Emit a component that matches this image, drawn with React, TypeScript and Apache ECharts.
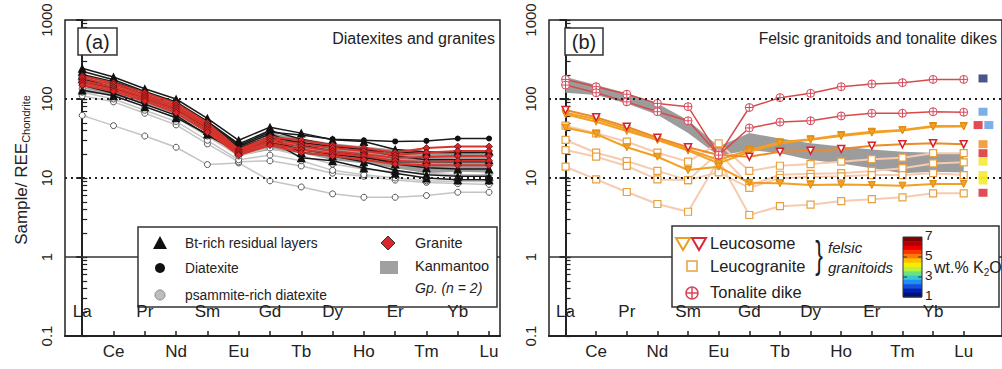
import React, { useEffect, useRef } from 'react';
import * as echarts from 'echarts';

const ELEMENTS = ['La', 'Ce', 'Pr', 'Nd', 'Sm', 'Eu', 'Gd', 'Tb', 'Dy', 'Ho', 'Er', 'Tm', 'Yb', 'Lu'];
const Y_TICKS = [0.1, 1, 10, 100, 1000];
const LABELS_BELOW = [1, 3, 5, 7, 9, 11, 13];
const LABELS_ABOVE = [0, 2, 4, 6, 8, 10, 12];

// ---- Panel (a): Diatexites and granites ----
const BT_RICH = [
  [245, 190, 135, 100, 57, 30, 44, 37, 30.5, 29, 23, 21.5, 21.5, 22],
  [225, 175, 125, 92, 52, 27, 40, 31, 26, 23, 19, 17, 17, 17],
  [200, 158, 112, 82, 46, 25, 36, 26, 22, 19, 15, 13.5, 13, 13],
  [180, 140, 102, 74, 40, 23, 33, 21, 19, 16, 12.5, 11, 10.5, 10.5],
  [130, 110, 80, 58, 36, 22, 30, 18, 16.5, 13.4, 11.5, 10, 9.5, 9.5],
];
const DIATEXITE = [
  [205, 165, 122, 90, 50, 26, 38, 35, 31, 30, 29, 29.5, 31.6, 31.6],
  [170, 135, 100, 72, 43, 24, 33, 28, 25, 23, 21, 21, 21, 21],
  [150, 118, 86, 62, 35, 21, 29, 23, 20, 18, 16, 16, 16, 16],
];
const PSAMMITE = [
  [62, 46, 34, 24.5, 14.8, 15.5, 9.2, 7.7, 6.3, 5.7, 5.7, 6.0, 6.6, 6.6],
  [110, 92, 66, 47, 27, 16, 16.5, 14.2, 11.5, 10.5, 9.4, 8.8, 8.5, 8.3],
  [122, 100, 72, 52, 30, 17, 19.5, 16.5, 12.5, 11, 10, 9.2, 9, 9],
  [135, 110, 80, 58, 34, 19, 24, 19, 15, 13, 12, 11.5, 11, 11],
];
const GRANITE = [
  [195, 160, 120, 88, 50, 23, 33, 30, 26, 24, 21, 24, 25, 25],
  [185, 152, 112, 82, 47, 22, 31, 27, 24, 22, 19.5, 21, 22, 22],
  [170, 142, 106, 77, 44, 21, 29, 25, 22, 20, 18, 18.5, 19, 19],
  [160, 133, 100, 72, 41, 20, 27, 23, 20.5, 19, 16.5, 16, 16.5, 16.5],
  [150, 125, 94, 67, 38, 19.5, 26, 21, 19, 17, 15, 14.5, 14.5, 14.5],
];
const KANMANTOO_TOP = [190, 150, 118, 88, 54, 25, 37, 31.6, 27.5, 25, 23, 21.5, 20.9, 20.6];
const KANMANTOO_BOTTOM = [120, 112, 88, 63, 37, 19, 22.6, 20.6, 16.9, 15.3, 13.3, 11.5, 12, 11.7];

// ---- Panel (b): Felsic granitoids and tonalite dikes ----
const TONALITE = [
  [177, 143, 115, 88, 80, 19.5, 78, 104, 118, 143, 155, 161, 177, 177],
  [150, 120, 92, 69, 53, 19.5, 43, 51, 53, 61, 66, 66, 69, 68],
];
const LEUCOSOME_ORANGE = [
  [67, 55.3, 41.7, 31.2, 23, 16.9, 22.6, 28.3, 30.9, 35, 38.5, 40.5, 45.5, 45.5],
  [64, 51.6, 39.4, 30.3, 22.2, 15.3, 21.5, 27.5, 30.5, 34, 37.5, 40, 44.5, 45],
  [43.3, 36, 24.5, 18.6, 12.6, 13.9, 8.7, 8.6, 8.15, 8.3, 8.15, 8.0, 8.4, 8.4],
];
const LEUCOSOME_RED = [72.6, 58.6, 44.6, 32.4, 24.5, 19.5, 18.6, 21.5, 22.2, 23.3, 25.6, 26.7, 27.5, 26.7];
const LEUCOGRANITE = [
  [45.9, 36.8, 28.8, 20.9, 16.1, 27.5, 12.3, 14.3, 15, 16.1, 17.3, 18.1, 20.6, 20.6],
  [30.3, 20.9, 16.4, 12.3, 9.4, 21, 8, 11, 11.3, 11.5, 12.3, 13.3, 15.3, 15.8],
  [22.6, 18.6, 14.2, 9.6, 9.4, 11.8, 7.5, 10, 10.3, 10.5, 10.9, 10.9, 11.5, 10.9],
  [13.9, 9.6, 6.65, 4.69, 3.74, 17, 3.4, 4.4, 4.6, 5.1, 5.4, 5.7, 6.4, 6.4],
];
const K2O_MARK_X = [13.63, 13.63, 13.47, 13.82, 13.63, 13.63, 13.63, 13.63, 13.63, 13.63];
const K2O_MARK_Y = [182, 69, 46.8, 46.8, 26.8, 20.6, 16.1, 10.9, 9.3, 6.5];
const K2O_MARK_COLOR = ['#1d2a6e', '#5b9be0', '#d8202a', '#5b9be0', '#f08a1c', '#d8202a', '#f3e81a', '#f3e81a', '#f3e81a', '#d8202a'];
const COLORBAR_TICKS = ['7', '5', '3', '1'];
const JET = ['#7f0000', '#b30000', '#e60000', '#ff3300', '#ff7a00', '#ffc000', '#f4f000', '#b8f040', '#6fe080', '#30c8d8', '#2090f0', '#1050e0', '#0020b0', '#00107a'];

const FONT = "'Liberation Sans', Arial, sans-serif";
const TXT = '#222';
const PLUS_CIRCLE = 'path://M10,0A10,10,0,1,1,-10,0A10,10,0,1,1,10,0ZM0,-10L0,10M-10,0L10,0';

function lineSeries(values: number[], xi: number, yi: number, o: any) {
  return {
    type: 'line',
    xAxisIndex: xi,
    yAxisIndex: yi,
    data: values.map((v, i) => [i, v]),
    symbol: o.symbol,
    symbolSize: o.size,
    symbolRotate: o.rotate || 0,
    showSymbol: true,
    lineStyle: { color: o.line, width: o.width },
    itemStyle: { color: o.fill, borderColor: o.border, borderWidth: o.bw },
    z: o.z,
    silent: true,
    emphasis: { disabled: true },
    markLine: o.markLine,
  };
}

function bandSeries(xi: number, yi: number) {
  return {
    type: 'custom',
    xAxisIndex: xi,
    yAxisIndex: yi,
    z: 1,
    silent: true,
    data: [[0, KANMANTOO_TOP[0]]],
    encode: { x: 0, y: 1 },
    renderItem: (params: any, api: any) => {
      const top = KANMANTOO_TOP.map((v, i) => api.coord([i, v]));
      const bot = KANMANTOO_BOTTOM.map((v, i) => api.coord([i, v])).reverse();
      return { type: 'polygon', shape: { points: top.concat(bot) }, style: { fill: '#9c9c9c' } };
    },
  };
}

const refLines = {
  silent: true,
  symbol: ['none', 'none'],
  label: { show: false },
  emphasis: { disabled: true },
  data: [
    { yAxis: 100, lineStyle: { type: [2, 4], width: 2, color: '#222' } },
    { yAxis: 10, lineStyle: { type: [2, 4], width: 2, color: '#222' } },
    { yAxis: 1, lineStyle: { type: 'solid', width: 1.5, color: '#333' } },
  ],
};

function minorTicks() {
  const out: number[] = [];
  [0.1, 1, 10, 100].forEach((d) => {
    for (let k = 1; k <= 10; k++) out.push(+(d * k).toPrecision(3));
  });
  return out;
}

function xAxes(gridIndex: number, min: number, max: number) {
  const ticks = ELEMENTS.map((_, i) => i);
  return [
    {
      type: 'value', gridIndex, min, max, position: 'bottom',
      axisLine: { lineStyle: { color: '#222', width: 2 } },
      axisTick: { inside: true, length: 5, customValues: ticks, lineStyle: { color: '#222', width: 1.5 } },
      axisLabel: { customValues: LABELS_BELOW, formatter: (v: number) => ELEMENTS[Math.round(v)] || '', color: TXT, fontSize: 17, fontFamily: FONT, margin: 7 },
      splitLine: { show: false },
    },
    {
      type: 'value', gridIndex, min, max, position: 'bottom', z: 150,
      axisLine: { show: false },
      axisTick: { show: false },
      axisLabel: { inside: true, customValues: LABELS_ABOVE, formatter: (v: number) => ELEMENTS[Math.round(v)] || '', color: TXT, fontSize: 17, fontFamily: FONT, margin: 16 },
      splitLine: { show: false },
    },
  ];
}

function yAxes(gridIndex: number) {
  return [
    {
      type: 'log', logBase: 10, gridIndex, min: 0.1, max: 1000, position: 'left',
      axisLine: { lineStyle: { color: '#222', width: 2 } },
      axisTick: { inside: false, length: 6, customValues: Y_TICKS, lineStyle: { color: '#222', width: 2 } },
      axisLabel: { customValues: Y_TICKS, rotate: 90, formatter: (v: number) => (v < 1 ? '0.1' : String(Math.round(v))), color: TXT, fontSize: 15, fontFamily: FONT, margin: 11 },
      splitLine: { show: false },
    },
    {
      type: 'log', logBase: 10, gridIndex, min: 0.1, max: 1000, position: 'left',
      axisLine: { show: false },
      axisTick: { inside: true, length: 5, customValues: minorTicks(), lineStyle: { color: '#222', width: 1.2 } },
      axisLabel: { show: false },
      splitLine: { show: false },
    },
  ];
}

function txt(text: string, x: number, y: number, extra: any = {}) {
  return {
    type: 'text', x, y, z: 110,
    style: { text, fill: TXT, fontSize: 14, fontFamily: FONT, align: 'left', verticalAlign: 'middle', ...extra },
  };
}

function buildGraphics() {
  const g: any[] = [];
  // y-axis title
  g.push({
    type: 'text', x: 21, y: 170, rotation: Math.PI / 2, z: 110,
    style: {
      text: '{a|Sample/ REE}{s|Chondrite}', align: 'center', verticalAlign: 'middle',
      rich: {
        a: { fontSize: 17, fontFamily: FONT, fill: TXT, lineHeight: 20 },
        s: { fontSize: 11, fontFamily: FONT, fill: TXT, lineHeight: 12, verticalAlign: 'bottom' },
      },
    },
  });
  // panel labels
  g.push({ type: 'rect', z: 110, shape: { x: 78, y: 28, width: 39, height: 27 }, style: { fill: '#fff', stroke: '#333', lineWidth: 1.5 } });
  g.push(txt('(a)', 97.5, 42, { fontSize: 20, align: 'center' }));
  g.push({ type: 'rect', z: 110, shape: { x: 565, y: 28, width: 38, height: 27 }, style: { fill: '#fff', stroke: '#333', lineWidth: 1.5 } });
  g.push(txt('(b)', 584, 42, { fontSize: 20, align: 'center' }));
  g.push(txt('Diatexites and granites', 495, 38, { fontSize: 16, align: 'right' }));
  g.push(txt('Felsic granitoids and tonalite dikes', 997, 38, { fontSize: 15.6, align: 'right' }));

  // legend (a)
  g.push({ type: 'rect', z: 105, shape: { x: 138, y: 227, width: 359, height: 80 }, style: { fill: '#fff', stroke: '#333', lineWidth: 1.5 } });
  g.push({ type: 'polygon', z: 110, shape: { points: [[160, 236], [153, 249], [167, 249]] }, style: { fill: '#111' } });
  g.push({ type: 'circle', z: 110, shape: { cx: 160, cy: 268, r: 5 }, style: { fill: '#111' } });
  g.push({ type: 'circle', z: 110, shape: { cx: 160, cy: 295, r: 5 }, style: { fill: '#bdbdbd', stroke: '#888', lineWidth: 1 } });
  g.push(txt('Bt-rich residual layers', 185, 243, { fontSize: 13.8 }));
  g.push(txt('Diatexite', 185, 268, { fontSize: 13.8 }));
  g.push(txt('psammite-rich diatexite', 185, 295, { fontSize: 13.8 }));
  g.push({ type: 'polygon', z: 110, shape: { points: [[388, 236], [395, 243], [388, 250], [381, 243]] }, style: { fill: '#d8262a', stroke: '#333', lineWidth: 1 } });
  g.push({ type: 'rect', z: 110, shape: { x: 380, y: 261, width: 18, height: 13 }, style: { fill: '#a0a0a0' } });
  g.push(txt('Granite', 415, 243, { fontSize: 14.5 }));
  g.push(txt('Kanmantoo', 415, 266, { fontSize: 14.5 }));
  g.push(txt('Gp. (n = 2)', 415, 288, { fontSize: 14, fontStyle: 'italic' }));

  // legend (b)
  g.push({ type: 'rect', z: 105, shape: { x: 672, y: 226, width: 327, height: 81 }, style: { fill: '#fff', stroke: '#333', lineWidth: 1.5 } });
  g.push({ type: 'polygon', z: 110, shape: { points: [[676, 238], [690, 238], [683, 250]] }, style: { fill: '#fff', stroke: '#e8a020', lineWidth: 2 } });
  g.push({ type: 'polygon', z: 110, shape: { points: [[692, 238], [706, 238], [699, 250]] }, style: { fill: '#fff', stroke: '#d8263a', lineWidth: 2 } });
  g.push({ type: 'rect', z: 110, shape: { x: 687, y: 261, width: 10, height: 10 }, style: { fill: '#fff', stroke: '#e8a040', lineWidth: 1.5 } });
  g.push({ type: 'circle', z: 110, shape: { cx: 692, cy: 293, r: 6 }, style: { fill: '#fff', stroke: '#d8475a', lineWidth: 1.5 } });
  g.push({ type: 'line', z: 111, shape: { x1: 686, y1: 293, x2: 698, y2: 293 }, style: { stroke: '#d8475a', lineWidth: 1.5 } });
  g.push({ type: 'line', z: 111, shape: { x1: 692, y1: 287, x2: 692, y2: 299 }, style: { stroke: '#d8475a', lineWidth: 1.5 } });
  g.push(txt('Leucosome', 710, 243, { fontSize: 16.5 }));
  g.push(txt('Leucogranite', 710, 266, { fontSize: 16.5 }));
  g.push(txt('Tonalite dike', 710, 292, { fontSize: 16.5 }));
  g.push({ type: 'text', x: 819, y: 255, scaleX: 0.6, z: 110, style: { text: '}', fill: TXT, fontSize: 38, fontFamily: FONT, align: 'center', verticalAlign: 'middle' } });
  g.push(txt('felsic', 828, 247, { fontSize: 15, fontStyle: 'italic' }));
  g.push(txt('granitoids', 828, 267, { fontSize: 15, fontStyle: 'italic' }));
  // colour bar
  const cbX = 903, cbY = 237, cbW = 19, cbH = 60;
  const bandH = cbH / JET.length;
  JET.forEach((c, i) => {
    g.push({ type: 'rect', z: 110, shape: { x: cbX, y: cbY + i * bandH, width: cbW, height: bandH + 0.5 }, style: { fill: c } });
  });
  g.push({ type: 'rect', z: 111, shape: { x: cbX, y: cbY, width: cbW, height: cbH }, style: { fill: 'none', stroke: '#333', lineWidth: 1 } });
  COLORBAR_TICKS.forEach((t, i) => {
    const y = cbY + (cbH * i) / (COLORBAR_TICKS.length - 1);
    g.push(txt(t, cbX + cbW + 3, y - 1.5, { fontSize: 13.5 }));
    if (i > 0 && i < COLORBAR_TICKS.length - 1) {
      g.push({ type: 'line', z: 111, shape: { x1: cbX, y1: y, x2: cbX + 4, y2: y }, style: { stroke: '#333', lineWidth: 1 } });
      g.push({ type: 'line', z: 111, shape: { x1: cbX + cbW - 4, y1: y, x2: cbX + cbW, y2: y }, style: { stroke: '#333', lineWidth: 1 } });
    }
  });
  g.push({
    type: 'text', x: 934, y: 267, z: 110,
    style: {
      text: '{a|wt.% K}{s|2}{a|O}', align: 'left', verticalAlign: 'middle',
      rich: {
        a: { fontSize: 16, fontFamily: FONT, fill: TXT, lineHeight: 20 },
        s: { fontSize: 10, fontFamily: FONT, fill: TXT, lineHeight: 12, verticalAlign: 'bottom' },
      },
    },
  });
  return g;
}

function buildOption() {
  const series: any[] = [];
  // panel (a)
  series.push(bandSeries(0, 0));
  PSAMMITE.forEach((v, i) =>
    series.push(lineSeries(v, 0, 0, { symbol: 'circle', size: 6, line: '#c4c4c4', width: 1.5, fill: '#fff', border: '#555', bw: 1, z: 2, markLine: i === 0 ? refLines : undefined }))
  );
  DIATEXITE.forEach((v) =>
    series.push(lineSeries(v, 0, 0, { symbol: 'circle', size: 6, line: '#1a1a1a', width: 1.5, fill: '#111', border: '#111', bw: 0, z: 3 }))
  );
  BT_RICH.forEach((v) =>
    series.push(lineSeries(v, 0, 0, { symbol: 'triangle', size: 9, line: '#1a1a1a', width: 1.5, fill: '#111', border: '#111', bw: 0, z: 4 }))
  );
  GRANITE.forEach((v) =>
    series.push(lineSeries(v, 0, 0, { symbol: 'diamond', size: 7, line: '#d8342c', width: 2, fill: '#d8262a', border: '#5a1010', bw: 0.8, z: 5 }))
  );
  // panel (b)
  series.push(bandSeries(2, 2));
  LEUCOGRANITE.forEach((v, i) =>
    series.push(lineSeries(v, 2, 2, { symbol: 'rect', size: 7, line: '#f6cbb0', width: 2, fill: '#fff', border: '#e9a03d', bw: 1.2, z: 2, markLine: i === 0 ? refLines : undefined }))
  );
  LEUCOSOME_ORANGE.forEach((v) =>
    series.push(lineSeries(v, 2, 2, { symbol: 'triangle', rotate: 180, size: 7, line: '#f2a024', width: 2, fill: '#f2a024', border: '#e08a10', bw: 1, z: 3 }))
  );
  series.push(lineSeries(LEUCOSOME_RED, 2, 2, { symbol: 'triangle', rotate: 180, size: 7, line: '#ee8a2a', width: 2, fill: '#fff', border: '#d8202a', bw: 1.5, z: 3 }));
  TONALITE.forEach((v) =>
    series.push(lineSeries(v, 2, 2, { symbol: PLUS_CIRCLE, size: 8, line: '#d84a4a', width: 1.5, fill: '#fff', border: '#d8475a', bw: 1, z: 4 }))
  );
  series.push({
    type: 'scatter', xAxisIndex: 2, yAxisIndex: 2, z: 6, silent: true,
    symbol: 'rect', symbolSize: [9, 8],
    data: K2O_MARK_X.map((x, i) => ({ value: [x, K2O_MARK_Y[i]], itemStyle: { color: K2O_MARK_COLOR[i] } })),
    clip: false,
  });

  return {
    animation: false,
    backgroundColor: '#fff',
    textStyle: { fontFamily: FONT },
    grid: [
      { left: 65, top: 20, right: 502, bottom: 33, show: true, borderColor: '#222', borderWidth: 1.5, containLabel: false },
      { left: 549, top: 20, right: -10, bottom: 33, show: true, borderColor: '#222', borderWidth: 1.5, containLabel: false },
    ],
    xAxis: [...xAxes(0, -0.55, 13.35), ...xAxes(1, -0.54, 14.25)],
    yAxis: [...yAxes(0), ...yAxes(1)],
    series,
    graphic: { elements: buildGraphics() },
  };
}

export default function App() {
  const ref = useRef<HTMLDivElement>(null);
  useEffect(() => {
    if (!ref.current) return;
    const chart = echarts.init(ref.current, undefined, { renderer: 'svg' });
    chart.setOption(buildOption() as any);
    return () => chart.dispose();
  }, []);
  return <div ref={ref} style={{ position: 'absolute', left: 0, top: 0, width: 1002, height: 369, background: '#fff' }} />;
}
